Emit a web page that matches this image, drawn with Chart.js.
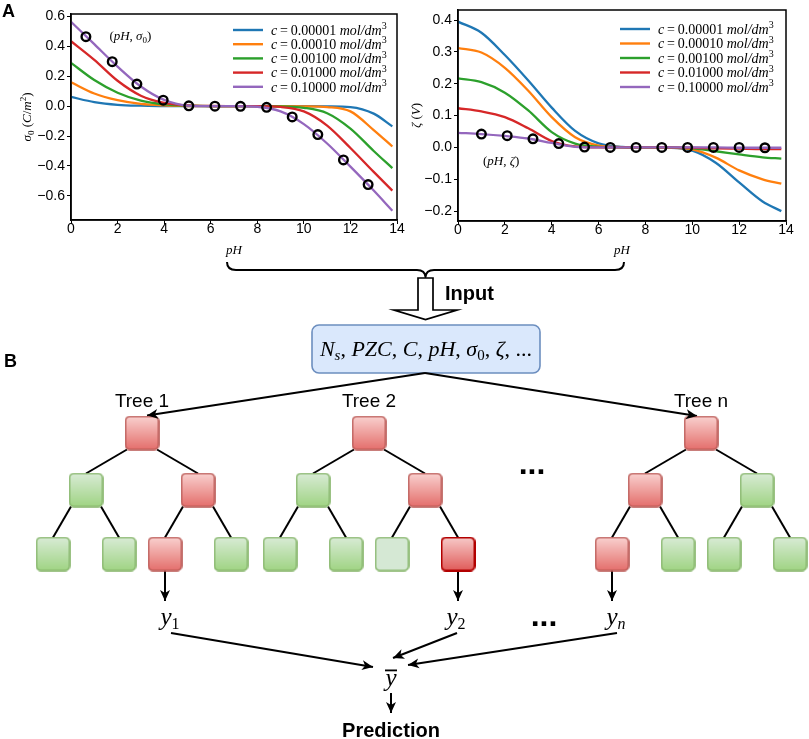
<!DOCTYPE html>
<html><head><meta charset="utf-8">
<script src="https://cdn.jsdelivr.net/npm/chart.js@4.4.1/dist/chart.umd.min.js"></script>
<style>
html,body{margin:0;padding:0;background:#fff;}
#page{position:relative;width:809px;height:739px;overflow:hidden;background:#fff;}
.box{position:absolute;}
</style></head><body>
<div id="page">
 <div class="box" style="left:0;top:250px;width:809px;height:489px"><canvas id="diag"></canvas></div>
 <div class="box" style="left:0;top:0;width:405px;height:262px"><canvas id="c1"></canvas></div>
 <div class="box" style="left:400px;top:0;width:409px;height:262px"><canvas id="c2"></canvas></div>
 <div style="position:absolute;left:2px;top:1px;font:bold 18px 'Liberation Sans',Arial,sans-serif;color:#000;">A</div>
</div>
<script>
// ---------------- data ----------------
const pH = [0, 1, 2, 3, 4, 5, 6, 7, 8, 9, 10, 11, 12, 13, 13.8];
const concLabels = ['0.00001', '0.00010', '0.00100', '0.01000', '0.10000'];
const seriesColors = ['#1f77b4', '#ff7f0e', '#2ca02c', '#d62728', '#9467bd'];

const sigma_c00001 = [0.062, 0.027, 0.009, 0.003, 0.001, 0, 0, 0, 0, 0, 0, -0.001, -0.006, -0.05, -0.135];
const sigma_c00010 = [0.16, 0.085, 0.04, 0.015, 0.005, 0.001, 0, 0, 0, 0, -0.001, -0.006, -0.035, -0.16, -0.27];
const sigma_c00100 = [0.29, 0.175, 0.09, 0.037, 0.012, 0.003, 0, 0, 0, -0.001, -0.011, -0.047, -0.15, -0.30, -0.415];
const sigma_c01000 = [0.435, 0.31, 0.17, 0.07, 0.022, 0.005, 0.001, 0, 0, -0.005, -0.035, -0.13, -0.28, -0.44, -0.565];
const sigma_c10000 = [0.565, 0.415, 0.265, 0.132, 0.042, 0.004, 0, 0, -0.004, -0.035, -0.12, -0.25, -0.405, -0.565, -0.70];
const sigmaMarkPH  = [0.64, 1.77, 2.83, 3.96, 5.06, 6.18, 7.28, 8.4, 9.5, 10.6, 11.7, 12.76];
const sigmaMarkVal = [0.465, 0.298, 0.148, 0.04, 0.002, 0, -0.001, -0.008, -0.072, -0.19, -0.36, -0.525];

const zeta_c00001 = [0.395, 0.36, 0.29, 0.21, 0.125, 0.052, 0.013, 0.002, 0, -0.001, -0.01, -0.048, -0.11, -0.17, -0.20];
const zeta_c00010 = [0.312, 0.298, 0.25, 0.178, 0.095, 0.032, 0.006, 0.001, 0, -0.001, -0.006, -0.032, -0.072, -0.10, -0.114];
const zeta_c00100 = [0.217, 0.205, 0.172, 0.116, 0.048, 0.012, 0.002, 0, 0, 0, -0.003, -0.012, -0.022, -0.031, -0.035];
const zeta_c01000 = [0.123, 0.113, 0.095, 0.06, 0.02, 0.003, 0, 0, 0, 0, -0.001, -0.003, -0.004, -0.005, -0.005];
const zeta_c10000 = [0.046, 0.042, 0.036, 0.028, 0.014, 0.002, 0, 0, 0, 0, 0, 0, -0.001, -0.001, -0.001];
const zetaMarkPH  = [1.0, 2.1, 3.2, 4.3, 5.4, 6.5, 7.6, 8.7, 9.8, 10.9, 12.0, 13.1];
const zetaMarkVal = [0.042, 0.037, 0.027, 0.012, 0.001, 0, 0, 0, 0, 0, 0, -0.001];

const pHTicks = [0, 2, 4, 6, 8, 10, 12, 14];
const sigmaTicks = [-0.6, -0.4, -0.2, 0, 0.2, 0.4, 0.6];
const zetaTicks = [-0.2, -0.1, 0, 0.1, 0.2, 0.3, 0.4];

// random-forest diagram (diagram units)
const treeLabels = ['Tree 1', 'Tree 2', 'Tree n'];
const treeRootX = [142, 369, 701];
const levelY = [433, 490, 554];
const branchDX = [56, 33];
const nodeStates = [
  ['red', 'green', 'red', 'green', 'green', 'red', 'green'],
  ['red', 'green', 'red', 'green', 'green', 'light', 'darkred'],
  ['red', 'red', 'green', 'red', 'green', 'green', 'green']
];
const pathLeaf = [2, 3, 0];
const outputSub = ['1', '2', 'n'];
const outputLabelX = [170, 456, 616];
const aggTargets = [[373, 667], [393, 658], [408, 665]];
const yBar = [391, 680];

// ---------------- helpers ----------------
const SERIF = '"Liberation Serif", "DejaVu Serif", serif';
const SANS = '"Liberation Sans", Arial, sans-serif';
function drawRuns(ctx, runs, x, y, align) {
  let total = 0;
  runs.forEach(r => { ctx.font = r[1]; total += ctx.measureText(r[0]).width; });
  let cx = align === 'center' ? x - total / 2 : (align === 'right' ? x - total : x);
  ctx.textAlign = 'left'; ctx.textBaseline = 'alphabetic';
  runs.forEach(r => { ctx.font = r[1]; ctx.fillText(r[0], cx, y + (r[2] || 0)); cx += ctx.measureText(r[0]).width; });
}
const fmt1 = v => (v < -1e-9 ? '\u2212' : '') + Math.abs(v).toFixed(1);

const framePlugin = {
  id: 'frame',
  afterDraw(chart) {
    const {ctx, chartArea: a} = chart;
    ctx.save(); ctx.strokeStyle = '#000'; ctx.lineWidth = 1.5;
    ctx.strokeRect(a.left, a.top, a.right - a.left, a.bottom - a.top);
    ctx.restore();
  }
};

const legendPlugin = {
  id: 'richLegend',
  afterDraw(chart, args, o) {
    const {ctx, chartArea: a} = chart;
    const x0 = a.right - o.dx, y0 = a.top + o.dy;
    ctx.save();
    concLabels.forEach((lab, i) => {
      const y = y0 + i * o.row;
      ctx.strokeStyle = seriesColors[i]; ctx.lineWidth = 2.4;
      ctx.beginPath(); ctx.moveTo(x0, y); ctx.lineTo(x0 + 30, y); ctx.stroke();
      ctx.fillStyle = '#000';
      drawRuns(ctx, [
        ['c', 'italic 14px ' + SERIF], ['\u2009=\u2009', '14px ' + SERIF], [lab, '14px ' + SERIF],
        [' mol/dm', 'italic 14px ' + SERIF], ['3', '10px ' + SERIF, -5.5]
      ], x0 + 38, y + 4.7, 'left');
    });
    ctx.restore();
  }
};

const labelsPlugin = {
  id: 'axisText',
  afterDraw(chart, args, o) {
    const {ctx, chartArea: a} = chart;
    ctx.save(); ctx.fillStyle = '#000';
    drawRuns(ctx, [['pH', 'italic 13px ' + SERIF]], (a.left + a.right) / 2, o.xTitleY, 'center');
    ctx.save();
    ctx.translate(o.yTitleX, (a.top + a.bottom) / 2);
    ctx.rotate(-Math.PI / 2);
    drawRuns(ctx, o.yTitle, 0, 4.5, 'center');
    ctx.restore();
    const xs = chart.scales.x, ys = chart.scales.y;
    drawRuns(ctx, o.annot, xs.getPixelForValue(o.annotAt[0]), ys.getPixelForValue(o.annotAt[1]) + 4.5, 'center');
    ctx.restore();
  }
};

function lineChart(id, series, markX, markY, c) {
  const datasets = series.map((vals, i) => ({
    type: 'line', label: concLabels[i],
    data: pH.map((x, j) => ({x: x, y: vals[j]})),
    borderColor: seriesColors[i], borderWidth: 2.3, pointRadius: 0,
    cubicInterpolationMode: 'monotone', fill: false, order: 10 - i
  }));
  datasets.push({
    type: 'scatter', label: 'points',
    data: markX.map((x, j) => ({x: x, y: markY[j]})),
    pointRadius: 4.3, pointBorderWidth: 2.4, pointBorderColor: '#000',
    pointBackgroundColor: 'rgba(0,0,0,0)', showLine: false, order: 0
  });
  const tickFont = {family: SANS, size: 14};
  return new Chart(document.getElementById(id), {
    type: 'line',
    data: {datasets: datasets},
    options: {
      responsive: true, maintainAspectRatio: false, animation: false,
      layout: {padding: c.padding, autoPadding: false},
      plugins: {
        legend: {display: false}, tooltip: {enabled: false},
        richLegend: c.legend,
        axisText: c.text
      },
      scales: {
        x: {
          type: 'linear', min: 0, max: 14,
          afterBuildTicks: s => { s.ticks = pHTicks.map(v => ({value: v})); },
          afterFit: s => { s.height = c.xH; s.paddingLeft = 0; s.paddingRight = 0; },
          ticks: {font: tickFont, color: '#000', padding: -3, maxRotation: 0, callback: v => String(v)},
          grid: {display: true, drawOnChartArea: false, drawTicks: true, tickLength: 4, tickColor: '#000', tickWidth: 1},
          border: {display: true, color: '#000', width: 1.5}
        },
        y: {
          type: 'linear', min: c.yMin, max: c.yMax,
          afterBuildTicks: s => { s.ticks = c.yTicks.map(v => ({value: v})); },
          afterFit: s => { s.width = c.yW; s.paddingTop = 0; s.paddingBottom = 0; },
          ticks: {font: tickFont, color: '#000', padding: 2, callback: v => fmt1(v)},
          grid: {display: true, drawOnChartArea: false, drawTicks: true, tickLength: 4, tickColor: '#000', tickWidth: 1},
          border: {display: true, color: '#000', width: 1.5}
        }
      }
    },
    plugins: [framePlugin, legendPlugin, labelsPlugin]
  });
}

const it13 = 'italic 13px ' + SERIF, rg13 = '13px ' + SERIF, sb9 = '9px ' + SERIF;
lineChart('c1', [sigma_c00001, sigma_c00010, sigma_c00100, sigma_c01000, sigma_c10000], sigmaMarkPH, sigmaMarkVal, {
  padding: {left: 0, right: 8, top: 14, bottom: 0}, yW: 71, xH: 42,
  yMin: -0.762, yMax: 0.617, yTicks: sigmaTicks,
  legend: {dx: 164, dy: 16, row: 14.2},
  text: {xTitleY: 254, yTitleX: 26,
    yTitle: [['\u03c3', it13], ['0', sb9, 3], [' (', rg13], ['C', it13], ['/', rg13], ['m', it13], ['2', sb9, -5], [')', rg13]],
    annot: [['(', rg13], ['pH', it13], [', ', rg13], ['\u03c3', it13], ['0', sb9, 3], [')', rg13]], annotAt: [2.55, 0.47]}
});
lineChart('c2', [zeta_c00001, zeta_c00010, zeta_c00100, zeta_c01000, zeta_c10000], zetaMarkPH, zetaMarkVal, {
  padding: {left: 0, right: 23, top: 10, bottom: 0}, yW: 58, xH: 41,
  yMin: -0.231, yMax: 0.4315, yTicks: zetaTicks,
  legend: {dx: 166, dy: 19, row: 14.5},
  text: {xTitleY: 254, yTitleX: 15,
    yTitle: [['\u03b6', it13], [' (', rg13], ['V', it13], [')', rg13]],
    annot: [['(', rg13], ['pH', it13], [', ', rg13], ['\u03b6', it13], [')', rg13]], annotAt: [1.84, -0.04]}
});

// ---------------- diagram ----------------
function nodeImage(top, bottom, stroke, lw) {
  const s = 35, cv = document.createElement('canvas');
  cv.width = s; cv.height = s;
  const g = cv.getContext('2d');
  const grd = g.createLinearGradient(0, 1, 0, s - 1);
  grd.addColorStop(0, top); grd.addColorStop(1, bottom);
  g.fillStyle = grd; g.strokeStyle = stroke; g.lineWidth = lw;
  g.beginPath(); g.roundRect(1, 1, s - 2, s - 2, 4.5); g.fill(); g.stroke();
  return cv;
}
const nodeStyles = {
  red: nodeImage('#f9d0ce', '#e46f6c', '#b85450', 1.6),
  green: nodeImage('#d8ebd5', '#a0d484', '#82b366', 1.6),
  light: nodeImage('#d5e8d4', '#d5e8d4', '#82b366', 1.6),
  darkred: nodeImage('#f7c9c8', '#e05c5a', '#b20000', 2.0)
};

const nodePts = [], nodeImgs = [], edgeSets = [], leafPos = [];
treeRootX.forEach((rx, t) => {
  const pos = [[rx, levelY[0]]];
  const c1 = [[rx - branchDX[0], levelY[1]], [rx + branchDX[0], levelY[1]]];
  pos.push(c1[0], c1[1]);
  c1.forEach(p => { pos.push([p[0] - branchDX[1], levelY[2]]); pos.push([p[0] + branchDX[1], levelY[2]]); });
  pos.forEach((p, k) => { nodePts.push({x: p[0], y: p[1]}); nodeImgs.push(nodeStyles[nodeStates[t][k]]); });
  const parentOf = [null, 0, 0, 1, 1, 2, 2];
  for (let k = 1; k < 7; k++) {
    const p = pos[parentOf[k]], ch = pos[k];
    const sg = ch[0] < p[0] ? -1 : 1;
    edgeSets.push([{x: p[0] + sg * 15, y: p[1] + 16.5}, {x: ch[0], y: ch[1] - 16.5}]);
  }
  leafPos.push(pos[3 + pathLeaf[t]]);
});

const arrowSets = [];
const inputBox = [312, 325, 540, 373];
const inputOut = [425, 373];
arrowSets.push([{x: inputOut[0], y: inputOut[1]}, {x: 147, y: 415.5}]);
arrowSets.push([{x: inputOut[0], y: inputOut[1]}, {x: 697, y: 416}]);
leafPos.forEach(p => arrowSets.push([{x: p[0], y: p[1] + 16.5}, {x: p[0], y: 601}]));
outputLabelX.forEach((lx, i) => arrowSets.push([{x: lx + 1, y: 633}, {x: aggTargets[i][0], y: aggTargets[i][1]}]));
arrowSets.push([{x: yBar[0], y: 693}, {x: yBar[0], y: 713}]);

const diagDatasets = [];
diagDatasets.push({label: 'nodes', data: nodePts, pointStyle: nodeImgs, pointRadius: 17, showLine: false, order: 0});
edgeSets.forEach(e => diagDatasets.push({data: e, showLine: true, borderColor: '#000', borderWidth: 2, pointRadius: 0, order: 5}));
arrowSets.forEach(e => diagDatasets.push({data: e, arrow: true, showLine: true, borderColor: '#000', borderWidth: 2, pointRadius: 0, order: 5}));

function drawHead(ctx, x0, y0, x1, y1) {
  const a = Math.atan2(y1 - y0, x1 - x0);
  ctx.save(); ctx.translate(x1, y1); ctx.rotate(a);
  ctx.beginPath(); ctx.moveTo(0, 0); ctx.lineTo(-11, -5); ctx.lineTo(-8, 0); ctx.lineTo(-11, 5); ctx.closePath();
  ctx.fillStyle = '#000'; ctx.fill(); ctx.restore();
}

const diagramPlugin = {
  id: 'diagram',
  beforeDatasetsDraw(chart) {
    const ctx = chart.ctx, X = v => chart.scales.x.getPixelForValue(v), Y = v => chart.scales.y.getPixelForValue(v);
    ctx.save();
    ctx.fillStyle = '#dae8fc'; ctx.strokeStyle = '#6c8ebf'; ctx.lineWidth = 1.6;
    ctx.beginPath();
    ctx.roundRect(X(inputBox[0]), Y(inputBox[1]), X(inputBox[2]) - X(inputBox[0]), Y(inputBox[3]) - Y(inputBox[1]), 7);
    ctx.fill(); ctx.stroke();
    ctx.restore();
  },
  afterDatasetsDraw(chart) {
    const ctx = chart.ctx, X = v => chart.scales.x.getPixelForValue(v), Y = v => chart.scales.y.getPixelForValue(v);
    chart.data.datasets.forEach((ds, i) => {
      if (!ds.arrow) return;
      const pts = chart.getDatasetMeta(i).data;
      const a = pts[pts.length - 2], b = pts[pts.length - 1];
      drawHead(ctx, a.x, a.y, b.x, b.y);
    });
    ctx.save();
    ctx.strokeStyle = '#000'; ctx.lineWidth = 2; ctx.lineJoin = 'round';
    ctx.beginPath();
    ctx.moveTo(X(227), Y(262));
    ctx.quadraticCurveTo(X(227), Y(270), X(236), Y(270));
    ctx.lineTo(X(417), Y(270));
    ctx.quadraticCurveTo(X(425), Y(270), X(425.5), Y(277));
    ctx.quadraticCurveTo(X(426), Y(270), X(434), Y(270));
    ctx.lineTo(X(615), Y(270));
    ctx.quadraticCurveTo(X(624), Y(270), X(624), Y(262));
    ctx.stroke();
    ctx.fillStyle = '#fff'; ctx.lineWidth = 1.7; ctx.lineJoin = 'miter';
    ctx.beginPath();
    [[418, 278], [433, 278], [433, 310], [457, 310], [425.5, 319.5], [394, 310], [418, 310]].forEach((p, k) => {
      if (k === 0) ctx.moveTo(X(p[0]), Y(p[1])); else ctx.lineTo(X(p[0]), Y(p[1]));
    });
    ctx.closePath(); ctx.fill(); ctx.stroke();
    ctx.fillStyle = '#000';
    drawRuns(ctx, [['Input', 'bold 20px ' + SANS]], X(445), Y(300), 'left');
    drawRuns(ctx, [['Prediction', 'bold 20px ' + SANS]], X(391), Y(737), 'center');
    drawRuns(ctx, [['B', 'bold 18px ' + SANS]], X(4), Y(367), 'left');
    treeLabels.forEach((t, i) => drawRuns(ctx, [[t, '19px ' + SANS]], X(treeRootX[i]), Y(407), 'center'));
    drawRuns(ctx, [['...', 'bold 32px ' + SANS]], X(532), Y(474), 'center');
    drawRuns(ctx, [['...', 'bold 32px ' + SANS]], X(544), Y(626), 'center');
    const mi = 'italic 22px ' + SERIF, mr = '22px ' + SERIF, ms = 'italic 15px ' + SERIF, mr15 = '15px ' + SERIF;
    drawRuns(ctx, [
      ['N', mi], ['s', ms, 4], [', ', mr], ['PZC', mi], [', ', mr], ['C', mi], [', ', mr],
      ['pH', mi], [', ', mr], ['\u03c3', mi], ['0', mr15, 4], [', ', mr], ['\u03b6', mi], [', ...', mr]
    ], X(426), Y(356), 'center');
    outputSub.forEach((s, i) => {
      drawRuns(ctx, [['y', 'italic 25px ' + SERIF], [s, (s === 'n' ? 'italic ' : '') + '16px ' + SERIF, 4]], X(outputLabelX[i]), Y(625), 'center');
    });
    drawRuns(ctx, [['y', 'italic 25px ' + SERIF]], X(yBar[0]), Y(686), 'center');
    ctx.fillRect(X(yBar[0] - 6), Y(669.5), 12, 1.8);
    ctx.restore();
  }
};

new Chart(document.getElementById('diag'), {
  type: 'scatter',
  data: {datasets: diagDatasets},
  options: {
    responsive: true, maintainAspectRatio: false, animation: false,
    layout: {padding: 0, autoPadding: false},
    plugins: {legend: {display: false}, tooltip: {enabled: false}},
    scales: {
      x: {type: 'linear', min: 0, max: 809, display: false},
      y: {type: 'linear', min: 250, max: 739, reverse: true, display: false}
    }
  },
  plugins: [diagramPlugin]
});
</script>
</body></html>
